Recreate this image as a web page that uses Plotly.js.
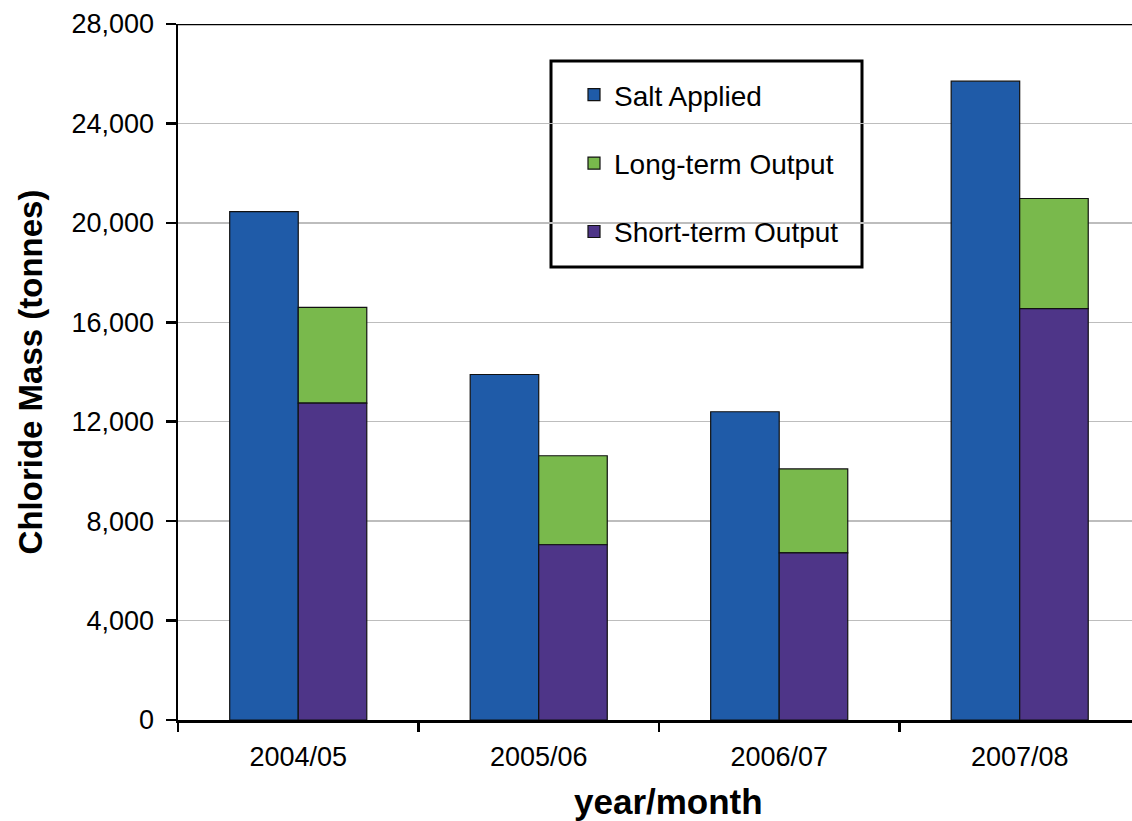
<!DOCTYPE html>
<html>
<head>
<meta charset="utf-8">
<script src="https://cdn.plot.ly/plotly-3.0.1.min.js"></script>
<style>html,body{margin:0;padding:0;background:#fff;}#chart{width:1132px;height:821px;}</style>
</head>
<body>
<div id="chart"></div>
<script>
const categories = ["2004/05", "2005/06", "2006/07", "2007/08"];
const saltApplied = [20450, 13900, 12400, 25700];
const shortTermOutput = [12750, 7050, 6720, 16550];
const longTermOutput = [3850, 3580, 3380, 4430];
const yTicks = [0, 4000, 8000, 12000, 16000, 20000, 24000, 28000];

const outline = {color: "#111", width: 1.2};

const traces = [
  {type: "bar", name: "Salt Applied", x: categories, y: saltApplied, offsetgroup: "a",
   legendgroup: "g1", marker: {color: "#1f5ba8", line: outline}},
  {type: "bar", name: "Long-term Output", x: categories, y: longTermOutput, base: shortTermOutput,
   offsetgroup: "b", legendgroup: "g2", marker: {color: "#79b94c", line: outline}},
  {type: "bar", name: "Short-term Output", x: categories, y: shortTermOutput, offsetgroup: "b",
   legendgroup: "g3", marker: {color: "#4e3588", line: outline}}
];

const W = 954, H = 696, L = 178, T = 24;
const px = v => (v - L) / W;
const py = v => (T + H - v) / H;

const layout = {
  width: 1132, height: 821,
  margin: {l: 178, r: 0, t: 24, b: 101},
  paper_bgcolor: "#fff", plot_bgcolor: "#fff",
  barmode: "group", bargap: 0.43, bargroupgap: 0,
  font: {family: "Liberation Sans, Arial, sans-serif", color: "#000"},
  showlegend: true,
  legend: {
    x: px(574), y: py(70), xanchor: "left", yanchor: "top",
    borderwidth: 0, bgcolor: "rgba(0,0,0,0)",
    font: {size: 28, color: "#000"},
    traceorder: "grouped", tracegroupgap: 29
  },
  xaxis: {
    type: "category", range: [-0.5, 3.467],
    tickson: "boundaries", ticks: "outside", ticklen: 9, tickwidth: 2.5, tickcolor: "#000",
    showline: true, linecolor: "#000", linewidth: 2.5,
    tickfont: {size: 27}, ticklabelstandoff: 11,
    showgrid: false
  },
  yaxis: {
    range: [0, 28000], tickvals: yTicks, tickformat: ",d",
    ticks: "outside", ticklen: 10, tickwidth: 2.5, tickcolor: "#000",
    showline: true, linecolor: "#000", linewidth: 2.5,
    showgrid: true, gridcolor: "#bdbdbd", gridwidth: 1.5,
    zeroline: false,
    tickfont: {size: 27}, ticklabelstandoff: 6,
    title: {text: "<b>Chloride Mass (tonnes)</b>", font: {size: 33}, standoff: 19}
  },
  annotations: [
    {text: "<b>year/month</b>", xref: "paper", yref: "paper", x: px(668), y: py(801),
     xanchor: "center", yanchor: "middle", showarrow: false, font: {size: 35, color: "#000"}}
  ],
  shapes: [
    {type: "line", xref: "paper", yref: "y", x0: 0, x1: 1, y0: 28000, y1: 28000,
     line: {color: "#000", width: 2.5}},
    {type: "rect", xref: "paper", yref: "paper", x0: px(551), x1: px(862), y0: py(61), y1: py(267),
     line: {color: "#000", width: 3}, fillcolor: "#fff", layer: "below"}
  ]
};

Plotly.newPlot("chart", traces, layout, {displayModeBar: false, staticPlot: true});
</script>
</body>
</html>
